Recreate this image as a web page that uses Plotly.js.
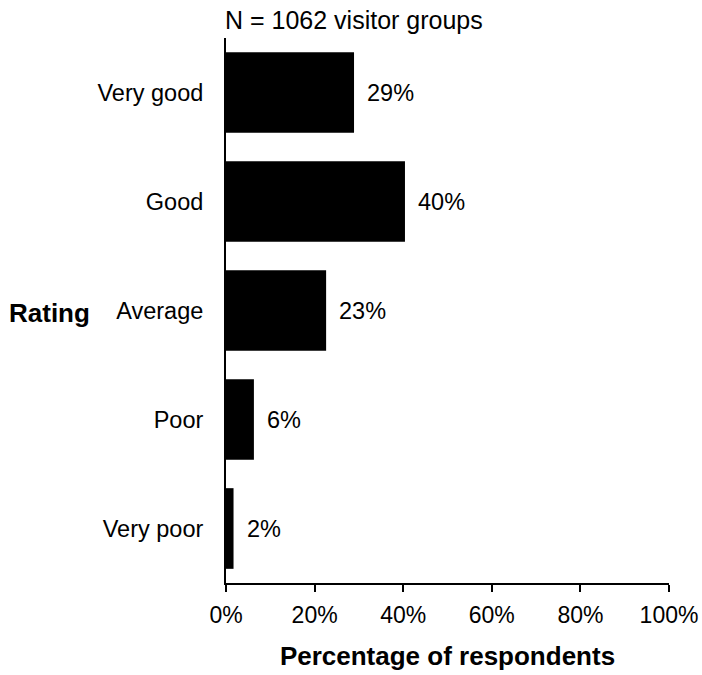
<!DOCTYPE html>
<html>
<head>
<meta charset="utf-8">
<script src="https://cdn.plot.ly/plotly-3.0.1.min.js"></script>
<style>html,body{margin:0;padding:0;background:#fff;}#chart{width:702px;height:675px;}</style>
</head>
<body>
<div id="chart"></div>
<script>
const categories = ['Very good', 'Good', 'Average', 'Poor', 'Very poor'];
const percentages = [28.9, 40.4, 22.6, 6.3, 1.7];
const valueLabels = ['29%', '40%', '23%', '6%', '2%'];
const xTickValues = [0, 20, 40, 60, 80, 100];
const xTickLabels = ['0%', '20%', '40%', '60%', '80%', '100%'];

const FONT = 'Liberation Sans, Arial, sans-serif';

const trace = {
  type: 'bar',
  orientation: 'h',
  x: percentages,
  y: categories,
  marker: {color: '#000000'},
  hoverinfo: 'none'
};

const annotations = categories.map((c, i) => ({
  x: percentages[i], y: c, xref: 'x', yref: 'y',
  text: valueLabels[i], showarrow: false,
  xanchor: 'left', xshift: 11,
  font: {family: FONT, size: 23.5, color: '#000'}
}));
annotations.push({
  x: 0, y: 1, xref: 'paper', yref: 'paper',
  text: 'N = 1062 visitor groups', showarrow: false,
  xanchor: 'left', yanchor: 'bottom', xshift: -3, yshift: 2,
  font: {family: FONT, size: 25, color: '#000'}
});
annotations.push({
  x: -0.495, y: 0.5, xref: 'paper', yref: 'paper',
  text: '<b>Rating</b>', showarrow: false,
  xanchor: 'left', yanchor: 'middle', yshift: -2,
  font: {family: FONT, size: 26, color: '#000'}
});

const layout = {
  width: 702, height: 675,
  margin: {l: 226, r: 33, t: 38, b: 92},
  paper_bgcolor: '#fff', plot_bgcolor: '#fff',
  showlegend: false,
  bargap: 0.26,
  xaxis: {
    range: [0, 100],
    tickvals: xTickValues, ticktext: xTickLabels,
    ticks: 'outside', ticklen: 7, tickwidth: 2, tickcolor: '#000',
    ticklabelstandoff: 3,
    showline: true, linewidth: 2, linecolor: '#000',
    showgrid: false, zeroline: false,
    tickfont: {family: FONT, size: 23, color: '#000'},
    title: {text: '<b>Percentage of respondents</b>', standoff: 20,
            font: {family: FONT, size: 26, color: '#000'}},
    fixedrange: true
  },
  yaxis: {
    autorange: 'reversed',
    showline: true, linewidth: 2, linecolor: '#000',
    ticks: '', showgrid: false, zeroline: false,
    ticklabelstandoff: 16,
    tickfont: {family: FONT, size: 23.5, color: '#000'},
    fixedrange: true
  },
  annotations: annotations
};

Plotly.newPlot('chart', [trace], layout, {displayModeBar: false, staticPlot: true});
</script>
</body>
</html>
